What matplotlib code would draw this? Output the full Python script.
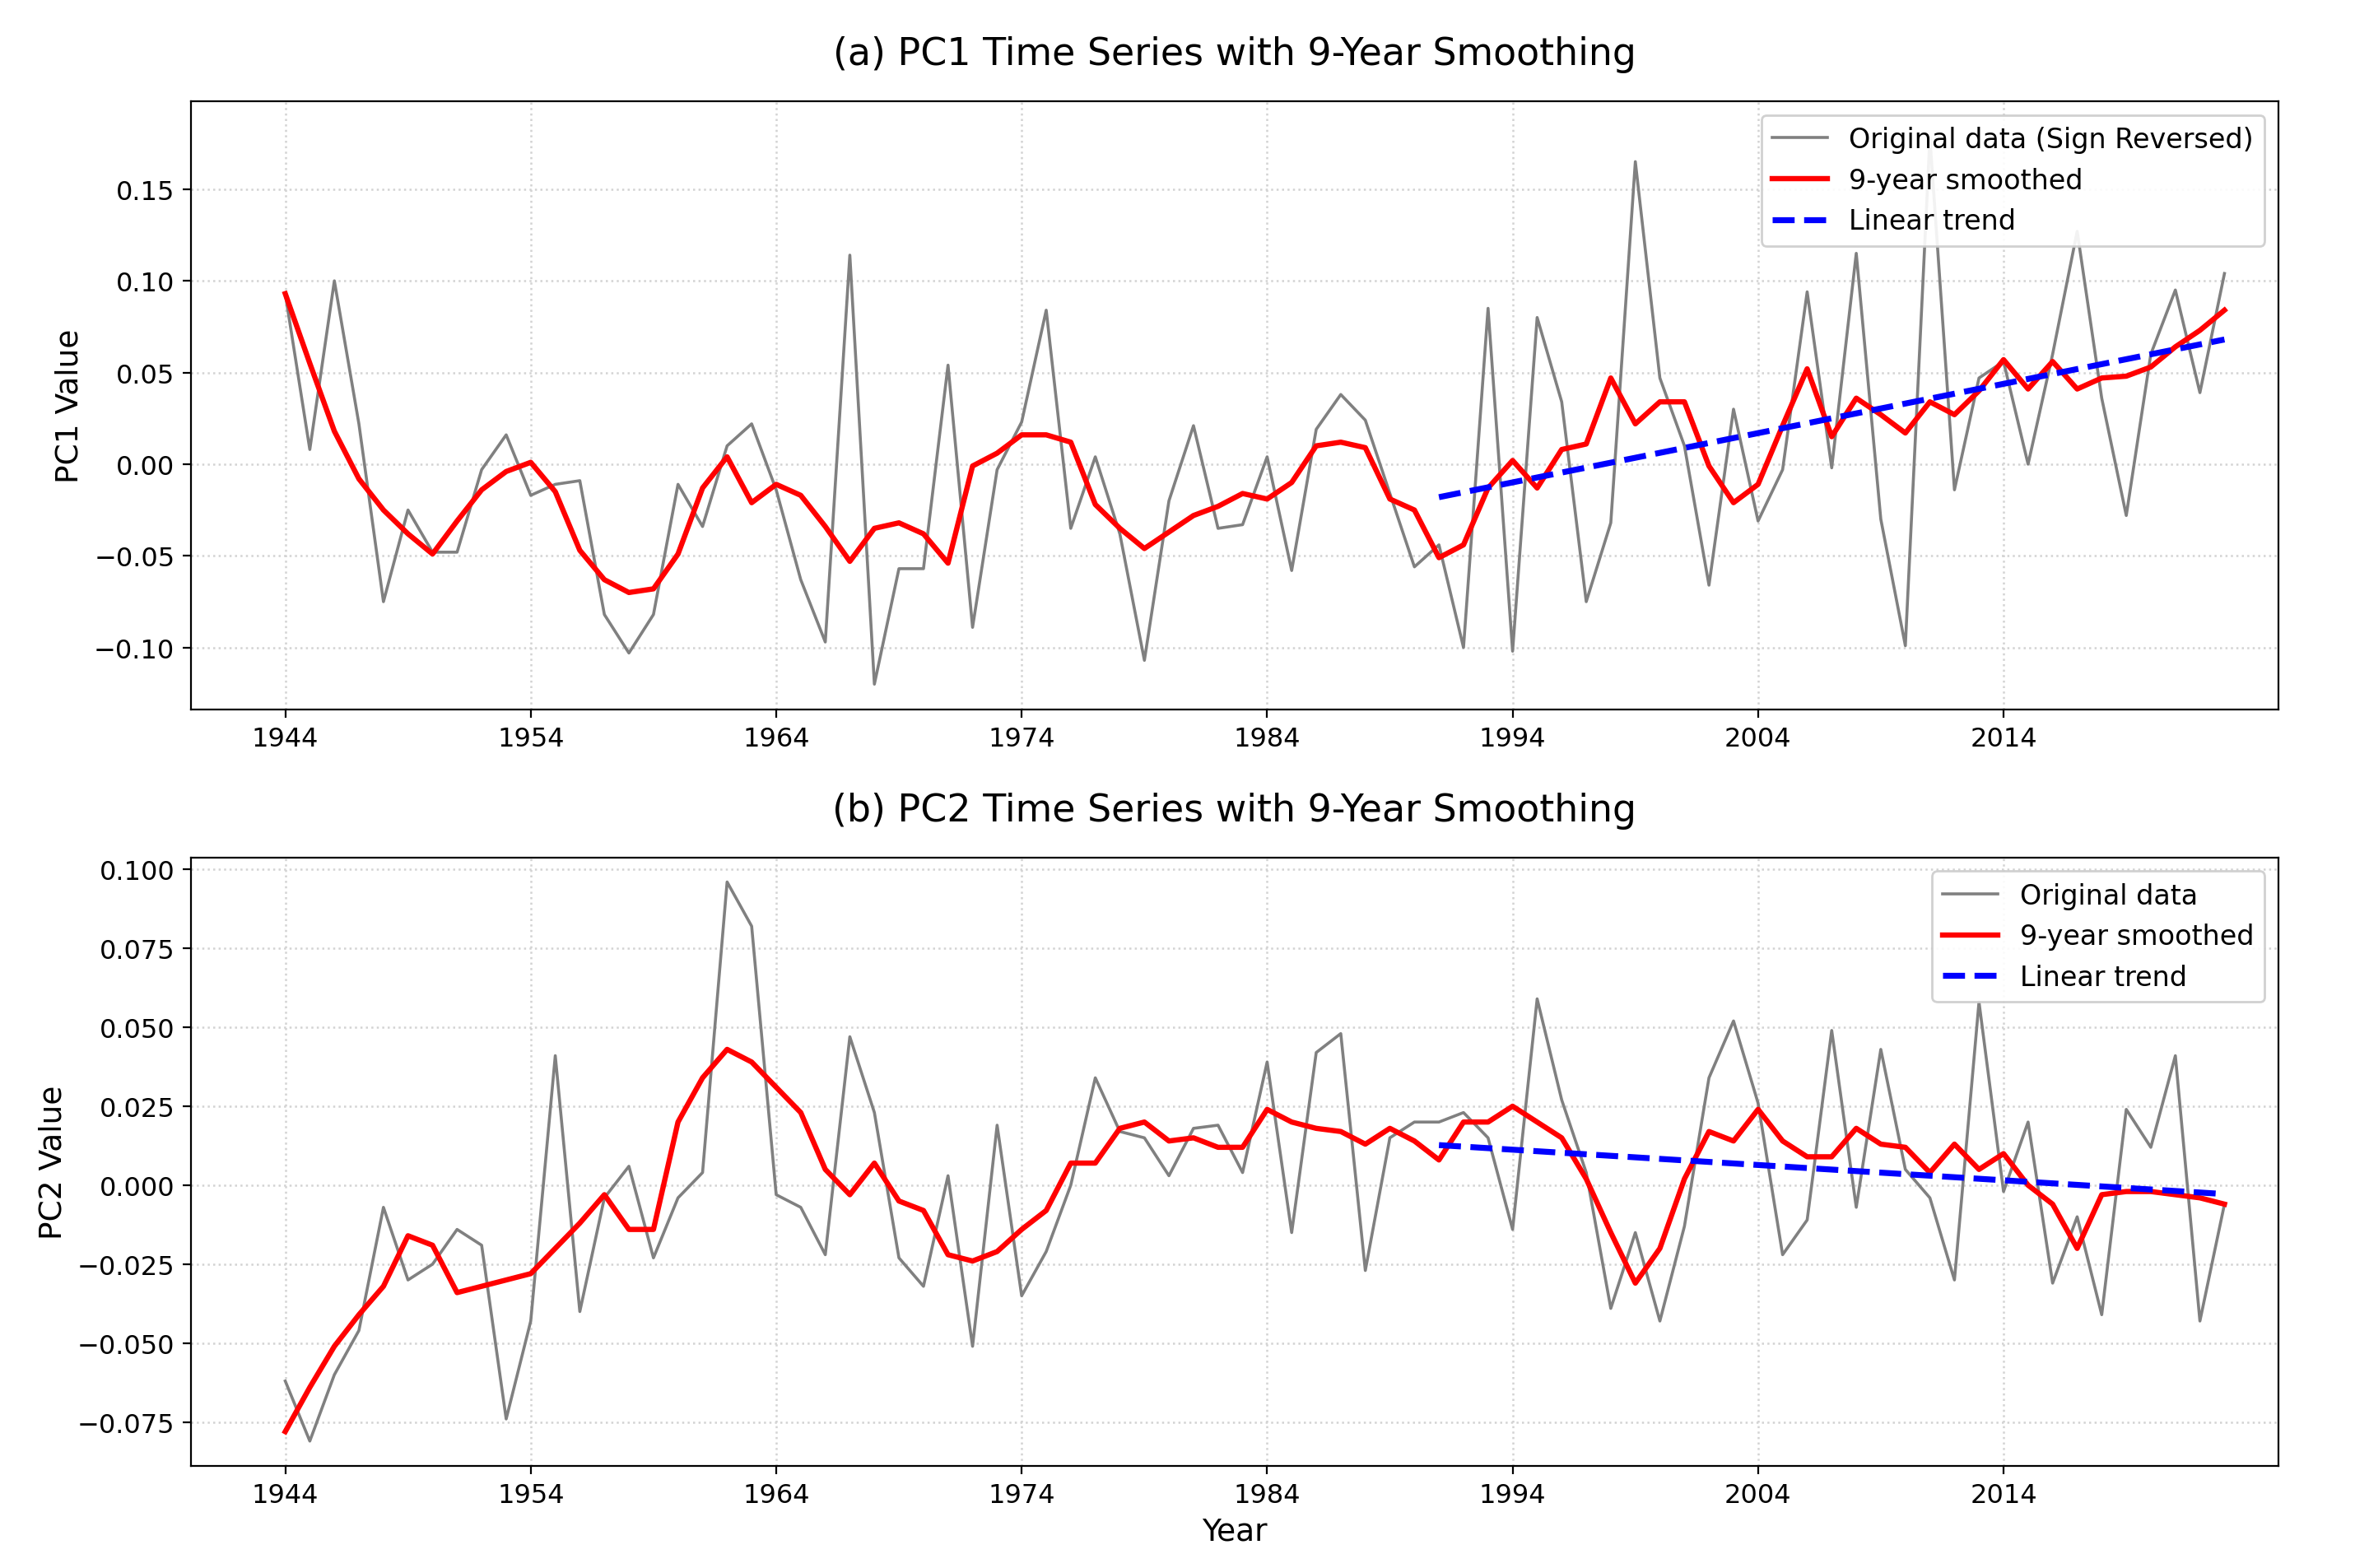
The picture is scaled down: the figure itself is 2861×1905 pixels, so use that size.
import numpy as np
import matplotlib
matplotlib.use("Agg")
import matplotlib.pyplot as plt

# ── Data ──────────────────────────────────────────────────────────────────────
years = np.arange(1944, 2024)

pc1_raw = [0.093, 0.008, 0.100, 0.022, -0.075, -0.025, -0.048, -0.048, -0.003, 0.016,
           -0.017, -0.011, -0.009, -0.082, -0.103, -0.082, -0.011, -0.034, 0.010, 0.022,
           -0.014, -0.063, -0.097, 0.114, -0.120, -0.057, -0.057, 0.054, -0.089, -0.003,
           0.023, 0.084, -0.035, 0.004, -0.038, -0.107, -0.020, 0.021, -0.035, -0.033,
           0.004, -0.058, 0.019, 0.038, 0.024, -0.016, -0.056, -0.044, -0.100, 0.085,
           -0.102, 0.080, 0.034, -0.075, -0.032, 0.165, 0.047, 0.010, -0.066, 0.030,
           -0.031, -0.003, 0.094, -0.002, 0.115, -0.030, -0.099, 0.178, -0.014, 0.047,
           0.056, 0.000, 0.060, 0.127, 0.036, -0.028, 0.060, 0.095, 0.039, 0.104]
pc1_smooth = [0.093, 0.055, 0.018, -0.008, -0.025, -0.038, -0.049, -0.031, -0.014, -0.004,
              0.001, -0.015, -0.047, -0.063, -0.070, -0.068, -0.049, -0.013, 0.004, -0.021,
              -0.011, -0.017, -0.034, -0.053, -0.035, -0.032, -0.038, -0.054, -0.001, 0.006,
              0.016, 0.016, 0.012, -0.022, -0.035, -0.046, -0.037, -0.028, -0.023, -0.016,
              -0.019, -0.010, 0.010, 0.012, 0.009, -0.019, -0.025, -0.051, -0.044, -0.013,
              0.002, -0.013, 0.008, 0.011, 0.047, 0.022, 0.034, 0.034, -0.001, -0.021,
              -0.011, 0.021, 0.052, 0.015, 0.036, 0.027, 0.017, 0.034, 0.027, 0.040,
              0.057, 0.041, 0.056, 0.041, 0.047, 0.048, 0.053, 0.064, 0.073, 0.084]
pc1_trend_years = [1991, 2023]
pc1_trend_vals = [-0.018, 0.068]

pc2_raw = [-0.062, -0.081, -0.060, -0.046, -0.007, -0.030, -0.025, -0.014, -0.019, -0.074,
           -0.043, 0.041, -0.040, -0.004, 0.006, -0.023, -0.004, 0.004, 0.096, 0.082,
           -0.003, -0.007, -0.022, 0.047, 0.023, -0.023, -0.032, 0.003, -0.051, 0.019,
           -0.035, -0.021, 0.000, 0.034, 0.017, 0.015, 0.003, 0.018, 0.019, 0.004,
           0.039, -0.015, 0.042, 0.048, -0.027, 0.015, 0.020, 0.020, 0.023, 0.015,
           -0.014, 0.059, 0.027, 0.004, -0.039, -0.015, -0.043, -0.013, 0.034, 0.052,
           0.026, -0.022, -0.011, 0.049, -0.007, 0.043, 0.005, -0.004, -0.030, 0.058,
           -0.002, 0.020, -0.031, -0.010, -0.041, 0.024, 0.012, 0.041, -0.043, -0.006]
pc2_smooth = [-0.078, -0.064, -0.051, -0.041, -0.032, -0.016, -0.019, -0.034, -0.032, -0.030,
              -0.028, -0.020, -0.012, -0.003, -0.014, -0.014, 0.020, 0.034, 0.043, 0.039,
              0.031, 0.023, 0.005, -0.003, 0.007, -0.005, -0.008, -0.022, -0.024, -0.021,
              -0.014, -0.008, 0.007, 0.007, 0.018, 0.020, 0.014, 0.015, 0.012, 0.012,
              0.024, 0.020, 0.018, 0.017, 0.013, 0.018, 0.014, 0.008, 0.020, 0.020,
              0.025, 0.020, 0.015, 0.002, -0.015, -0.031, -0.020, 0.002, 0.017, 0.014,
              0.024, 0.014, 0.009, 0.009, 0.018, 0.013, 0.012, 0.004, 0.013, 0.005,
              0.010, 0.000, -0.006, -0.020, -0.003, -0.002, -0.002, -0.003, -0.004, -0.006]
pc2_trend_years = [1991, 2023]
pc2_trend_vals = [0.0127, -0.0028]

xticks = np.arange(1944, 2015, 10)

# ── Figure ────────────────────────────────────────────────────────────────────
fig = plt.figure(figsize=(14.305, 9.53), dpi=200)
ax1 = fig.add_axes([0.081, 0.547, 0.8865, 0.388])
ax2 = fig.add_axes([0.081, 0.065, 0.8865, 0.388])

panels = [
    (ax1, pc1_raw, pc1_smooth, pc1_trend_years, pc1_trend_vals,
     "Original data (Sign Reversed)", "(a) PC1 Time Series with 9-Year Smoothing",
     "PC1 Value", (-0.134, 0.198)),
    (ax2, pc2_raw, pc2_smooth, pc2_trend_years, pc2_trend_vals,
     "Original data", "(b) PC2 Time Series with 9-Year Smoothing",
     "PC2 Value", (-0.0889, 0.1038)),
]

for ax, raw, smooth, ty, tv, raw_label, title, ylabel, ylim in panels:
    ax.plot(years, raw, color="gray", lw=1.3, label=raw_label)
    ax.plot(years, smooth, color="red", lw=2.3, label="9-year smoothed")
    ax.plot(ty, tv, color="blue", lw=2.6, ls="--", label="Linear trend")
    ax.set_xlim(1940.15, 2025.2)
    ax.set_ylim(*ylim)
    ax.set_xticks(xticks)
    ax.grid(True, ls=":", color="lightgray", lw=0.9)
    ax.set_title(title, fontsize=16.5, pad=16)
    ax.set_ylabel(ylabel, fontsize=13.5)
    ax.tick_params(labelsize=11.5)
    ax.legend(loc="upper right", fontsize=12, framealpha=0.9)

ax2.set_xlabel("Year", fontsize=13.5)

fig.savefig("out.png", dpi=200)
